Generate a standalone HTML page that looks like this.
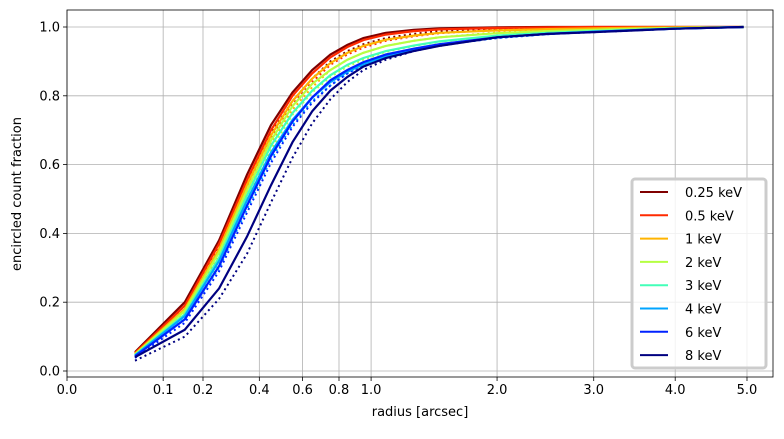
<!DOCTYPE html>
<html><head><meta charset="utf-8"><style>
body{margin:0;background:#fff;font-family:"Liberation Sans","DejaVu Sans",sans-serif}
svg text{font-family:"DejaVu Sans","Liberation Sans",sans-serif;font-size:13px;fill:#000}
</style></head><body>
<svg id="chart" width="784" height="434" xmlns="http://www.w3.org/2000/svg"></svg>
<script>
const radii=[0.05,0.15,0.25,0.35,0.45,0.55,0.65,0.75,0.85,0.95,1.1,1.3,1.5,2.0,2.5,3.0,3.5,4.0,4.95];
const energies=["0.25 keV","0.5 keV","1 keV","2 keV","3 keV","4 keV","6 keV","8 keV"];
const colors=["#800000","#ff2a00","#ffb400","#b5ff42","#42ffb8","#00a4ff","#0022ff","#000080"];
const solid0=[.055,.20,.38,.57,.715,.81,.875,.92,.948,.968,.983,.992,.996,.999,1,1,1,1,1];
const solid1=[.052,.19,.37,.555,.70,.80,.865,.912,.942,.962,.978,.988,.993,.997,.999,1,1,1,1];
const solid2=[.05,.18,.355,.54,.685,.785,.85,.895,.925,.945,.963,.975,.983,.99,.994,.996,.998,.999,1];
const solid3=[.048,.175,.345,.525,.67,.77,.835,.875,.905,.925,.945,.96,.97,.982,.988,.992,.995,.997,1];
const solid4=[.046,.165,.33,.51,.655,.75,.815,.86,.89,.91,.93,.946,.958,.975,.983,.988,.992,.996,1];
const solid5=[.045,.16,.32,.495,.635,.73,.795,.84,.87,.892,.915,.935,.948,.97,.98,.986,.991,.995,1];
const solid6=[.043,.15,.305,.48,.625,.725,.795,.845,.875,.898,.92,.937,.95,.97,.98,.986,.991,.995,1];
const solid7=[.04,.12,.24,.39,.54,.665,.755,.815,.855,.885,.91,.93,.945,.97,.98,.985,.99,.995,1];
const dot0=[.05,.19,.36,.545,.69,.785,.85,.9,.93,.95,.968,.98,.988,.995,.998,.999,1,1,1];
const dot1=[.048,.18,.35,.53,.675,.775,.84,.89,.92,.94,.96,.973,.982,.992,.996,.998,.999,1,1];
const dot2=[.046,.17,.335,.515,.66,.76,.825,.875,.905,.925,.945,.96,.97,.984,.99,.994,.996,.998,1];
const dot3=[.044,.165,.325,.5,.645,.745,.81,.855,.885,.905,.928,.945,.957,.975,.984,.99,.994,.997,1];
const dot4=[.042,.155,.31,.485,.63,.73,.795,.84,.872,.895,.918,.937,.95,.97,.98,.987,.992,.996,1];
const dot5=[.04,.15,.3,.47,.615,.715,.785,.83,.865,.89,.913,.933,.947,.968,.979,.986,.991,.995,1];
const dot6=[.038,.14,.29,.46,.605,.71,.78,.83,.865,.89,.913,.933,.947,.968,.979,.986,.991,.995,1];
const dot7=[.03,.10,.21,.34,.49,.62,.72,.79,.84,.875,.905,.93,.945,.97,.98,.985,.99,.995,1];
const solids=[solid0,solid1,solid2,solid3,solid4,solid5,solid6,solid7];
const dots=[dot0,dot1,dot2,dot3,dot4,dot5,dot6,dot7];
const xTicks=[0.0,0.1,0.2,0.4,0.6,0.8,1.0,2.0,3.0,4.0,5.0];
const xTickLabels=["0.0","0.1","0.2","0.4","0.6","0.8","1.0","2.0","3.0","4.0","5.0"];
const yTicks=[0,0.2,0.4,0.6,0.8,1.0];
const yTickLabels=["0.0","0.2","0.4","0.6","0.8","1.0"];

const L=67,R=773,T=10,B=377;
const xs=r=>67+304.1*Math.sqrt(r);
const ys=v=>371-344*v;
const svg=document.getElementById('chart');
const NS="http://www.w3.org/2000/svg";
function mk(tag,at,parent){const e=document.createElementNS(NS,tag);for(const k in at)e.setAttribute(k,at[k]);(parent||svg).appendChild(e);return e;}

const grid=mk('g',{});


xTicks.forEach((t,i)=>{const x=xs(t);
 mk('line',{x1:x,x2:x,y1:T,y2:B,stroke:'#b0b0b0','stroke-width':0.8},grid);
 mk('line',{x1:x,x2:x,y1:B,y2:B+4,stroke:'#000','stroke-width':0.8});
 const tx=mk('text',{x:x,y:B+17,'text-anchor':'middle'});tx.textContent=xTickLabels[i];
 
 
});
yTicks.forEach((t,i)=>{const y=ys(t);
 mk('line',{x1:L,x2:R,y1:y,y2:y,stroke:'#b0b0b0','stroke-width':0.8},grid);
 mk('line',{x1:L-4,x2:L,y1:y,y2:y,stroke:'#000','stroke-width':0.8});
 const tx=mk('text',{x:L-7,y:y+4.5,'text-anchor':'end'});tx.textContent=yTickLabels[i];
 
 
});
function pts(arr){return arr.map((v,i)=>xs(radii[i]).toFixed(1)+','+ys(v).toFixed(1)).join(' ');}
for(let k=0;k<8;k++){
 const d=mk('polyline',{points:pts(dots[k]),fill:'none',stroke:colors[k],'stroke-width':2,'stroke-dasharray':'2,3.3'});
 
 
}
for(let k=0;k<8;k++){
 const s=mk('polyline',{points:pts(solids[k]),fill:'none',stroke:colors[k],'stroke-width':2.2});
 
 
}
const frame=mk('rect',{x:L,y:T,width:R-L,height:B-T,fill:'none',stroke:'#000','stroke-width':0.8});


const xl=mk('text',{x:(L+R)/2,y:416,'text-anchor':'middle'});xl.textContent='radius [arcsec]';


const yl=mk('text',{x:0,y:0,'text-anchor':'middle',transform:'translate(21,194) rotate(-90)'});yl.textContent='encircled count fraction';


const lg=mk('g',{});


mk('rect',{x:632,y:179,width:134,height:189,rx:3,fill:'#fff','fill-opacity':0.8,stroke:'#ccc','stroke-width':3},lg);
energies.forEach((e,k)=>{const y=192+23.3*k;
 const ln=mk('line',{x1:640,x2:668,y1:y,y2:y,stroke:colors[k],'stroke-width':2},lg);
 
 
 const t=mk('text',{x:685,y:y+5},lg);t.textContent=e;
 
 
});
</script>
</body></html>
